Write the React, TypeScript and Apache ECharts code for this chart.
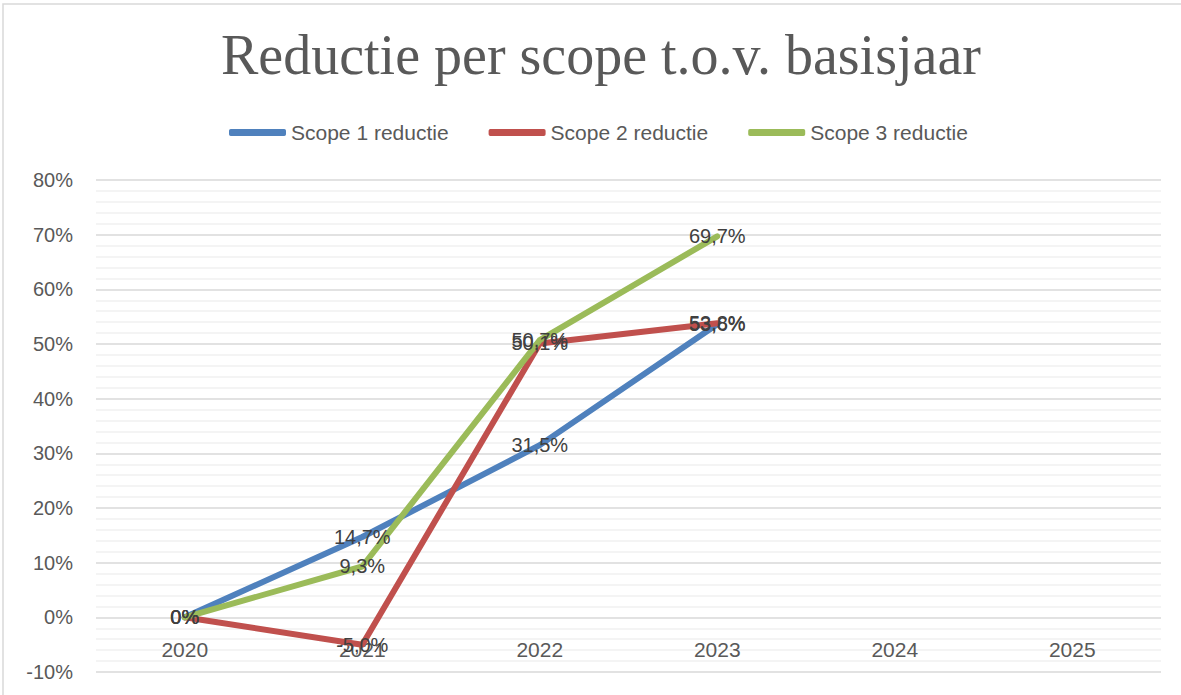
import React, { useEffect, useRef } from "react";
import * as echarts from "echarts";

const years = ["2020", "2021", "2022", "2023", "2024", "2025"];
const scope1 = [0, 14.7, 31.5, 53.6, null, null];
const scope2 = [0, -5.0, 50.1, 53.8, null, null];
const scope3 = [0, 9.3, 50.7, 69.7, null, null];
const seriesNames = ["Scope 1 reductie", "Scope 2 reductie", "Scope 3 reductie"];
const colors = ["#4F81BD", "#C0504D", "#9BBB59"];

const FONT = "'Liberation Sans', Arial, sans-serif";

export default function App() {
  const ref = useRef<HTMLDivElement>(null);
  useEffect(() => {
    if (!ref.current) return;
    const chart = echarts.init(ref.current, null, { renderer: "svg" });
    const fmt = (p: any) => {
      const v = p.value as number;
      if (v === 0) return "0%";
      return v.toFixed(1).replace(".", ",") + "%";
    };
    const mk = (name: string, data: (number | null)[], color: string) => ({
      name,
      type: "line",
      data,
      symbol: "circle",
      symbolSize: 0.5,
      showSymbol: true,
      lineStyle: { color, width: 6, cap: "round", join: "round" },
      itemStyle: { color },
      label: {
        show: true,
        position: "inside",
        formatter: fmt,
        color: "#404040",
        fontSize: 20,
        fontFamily: FONT,
      },
      labelLayout: { hideOverlap: false },
      emphasis: { disabled: true },
    });
    chart.setOption({
      animation: false,
      backgroundColor: "#ffffff",
      title: {
        text: "Reductie per scope t.o.v. basisjaar",
        left: 216,
        top: 22,
        textStyle: {
          color: "#595959",
          fontFamily: "'Liberation Serif', serif",
          fontWeight: "normal",
          fontSize: 56,
        },
      },
      legend: {
        data: seriesNames,
        top: 117,
        left: 224,
        itemWidth: 57,
        itemHeight: 7,
        itemGap: 40,
        icon: "roundRect",
        textStyle: { color: "#595959", fontSize: 21, fontFamily: FONT },
      },
      grid: { left: 96, right: 20, top: 180, bottom: 23, containLabel: false, outerBoundsMode: "none" },
      xAxis: {
        type: "category",
        data: years,
        boundaryGap: true,
        position: "bottom",
        offset: -55,
        axisLine: { show: false, onZero: false },
        axisTick: { show: false },
        axisLabel: { color: "#595959", fontSize: 21, fontFamily: FONT, margin: 22 },
        splitLine: { show: false },
      },
      yAxis: {
        type: "value",
        min: -10,
        max: 80,
        interval: 10,
        axisLine: { show: false },
        axisTick: { show: false },
        axisLabel: {
          color: "#595959",
          fontSize: 20,
          fontFamily: FONT,
          margin: 23,
          formatter: (v: number) => v + "%",
        },
        splitLine: { show: true, lineStyle: { color: "#d9d9d9", width: 1.5 } },
        minorTick: { show: false, splitNumber: 5 },
        minorSplitLine: { show: true, lineStyle: { color: "#f0f0f0", width: 1.5 } },
      },
      graphic: [
        {
          type: "polyline",
          shape: { points: [[3, 695], [3, 4], [1181, 4]] },
          style: { stroke: "#d9d9d9", lineWidth: 1.5, fill: "none" },
          silent: true,
        },
      ],
      series: [
        mk(seriesNames[0], scope1, colors[0]),
        mk(seriesNames[1], scope2, colors[1]),
        mk(seriesNames[2], scope3, colors[2]),
      ],
    });
    return () => chart.dispose();
  }, []);
  return (
    <div
      ref={ref}
      style={{ position: "absolute", left: 0, top: 0, width: 1181, height: 695 }}
    />
  );
}
